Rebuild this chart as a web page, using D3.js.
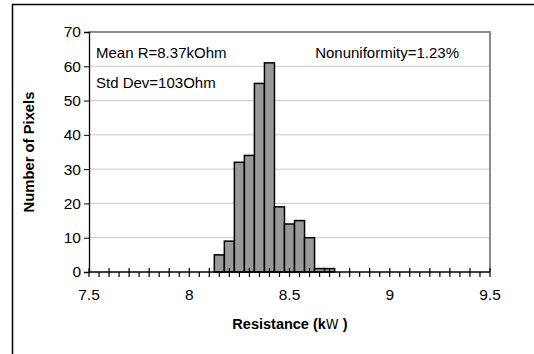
<!DOCTYPE html>
<html>
<head>
<meta charset="utf-8">
<script src="https://cdn.jsdelivr.net/npm/d3@7"></script>
<style>
  body { margin: 0; background: #fff; }
  text { font-family: "Liberation Sans", Arial, sans-serif; fill: #000; }
</style>
</head>
<body>
<script>
// histogram bins (centre, kOhm) and pixel counts
const binCenters = [8.15, 8.2, 8.25, 8.3, 8.35, 8.4, 8.45, 8.5, 8.55, 8.6, 8.65, 8.7];
const counts = [5, 9, 32, 34, 55, 61, 19, 14, 15, 10, 1, 1];
const binWidth = 0.05;
const xTicks = [7.5, 8, 8.5, 9, 9.5];
const yTicks = [0, 10, 20, 30, 40, 50, 60, 70];
const notes = ['Mean R=8.37kOhm', 'Std Dev=103Ohm', 'Nonuniformity=1.23%'];

const W = 534, H = 354;
const margin = { top: 32, right: 44, bottom: 82, left: 89 };
const width = W - margin.left - margin.right;
const height = H - margin.top - margin.bottom;

const svg = d3.select('body').append('svg')
  .attr('width', W)
  .attr('height', H);

// outer frame (only top and left edges show in the picture)
svg.append('path')
  .attr('d', `M12.5,${H} V4.5 H${W}`)
  .attr('fill', 'none')
  .attr('stroke', '#000')
  .attr('stroke-width', 1.5);

const g = svg.append('g')
  .attr('transform', `translate(${margin.left},${margin.top})`);

const x = d3.scaleLinear().domain([7.5, 9.5]).range([0, width]);
const y = d3.scaleLinear().domain([0, 70]).range([height, 0]);

// gridlines
g.append('g')
  .selectAll('line')
  .data(yTicks.filter(d => d > 0 && d < 70))
  .join('line')
  .attr('x1', 0).attr('x2', width)
  .attr('y1', d => y(d)).attr('y2', d => y(d))
  .attr('stroke', '#c8c8c8')
  .attr('stroke-width', 1);

// plot border top + right
g.append('path')
  .attr('d', `M0,0 H${width} V${height}`)
  .attr('fill', 'none')
  .attr('stroke', '#8c8c8c')
  .attr('stroke-width', 2);

// bars
g.selectAll('rect.bar')
  .data(binCenters.map((c, i) => ({ c, n: counts[i] })))
  .join('rect')
  .attr('class', 'bar')
  .attr('x', d => x(d.c - binWidth / 2))
  .attr('width', d => x(d.c + binWidth / 2) - x(d.c - binWidth / 2))
  .attr('y', d => y(d.n))
  .attr('height', d => y(0) - y(d.n))
  .attr('fill', '#999999')
  .attr('stroke', '#000')
  .attr('stroke-width', 1.5);

// y axis
const yAxis = g.append('g')
  .call(d3.axisLeft(y).tickValues(yTicks).tickSize(5).tickPadding(3).tickFormat(d3.format('d')));
yAxis.select('.domain').attr('stroke-width', 1.3);
yAxis.selectAll('text').attr('font-size', 15.5).attr('font-family', '"Liberation Sans", Arial, sans-serif');

// x axis: labels every 0.5, minor ticks every 0.05, cross ticks every 0.1
const xa = g.append('g').attr('transform', `translate(0,${height})`);
xa.append('line')
  .attr('x1', 0).attr('x2', width)
  .attr('stroke', '#000').attr('stroke-width', 1.3);
const allTicks = d3.range(0, 41).map(i => 7.5 + i * 0.05);
xa.selectAll('line.tk')
  .data(allTicks)
  .join('line')
  .attr('class', 'tk')
  .attr('x1', d => x(d)).attr('x2', d => x(d))
  .attr('y1', (d, i) => i % 2 === 0 ? -4 : 0)
  .attr('y2', 5)
  .attr('stroke', '#000')
  .attr('stroke-width', 1.2);
xa.selectAll('text')
  .data(xTicks)
  .join('text')
  .attr('x', d => x(d))
  .attr('y', 28)
  .attr('text-anchor', 'middle')
  .attr('font-size', 15.5)
  .text(d => d);

// axis titles
const xt = svg.append('text')
  .attr('x', 290)
  .attr('y', 329)
  .attr('text-anchor', 'middle')
  .attr('font-size', 14.5)
  .attr('font-weight', 'bold');
xt.append('tspan').text('Resistance (k');
xt.append('tspan').attr('font-family', '"Liberation Sans Narrow", "DejaVu Sans Condensed", sans-serif').attr('font-weight', 'normal').text('W');
xt.append('tspan').text(' )');

svg.append('text')
  .attr('transform', `translate(34,${margin.top + height / 2}) rotate(-90)`)
  .attr('text-anchor', 'middle')
  .attr('font-size', 14.8)
  .attr('font-weight', 'bold')
  .text('Number of Pixels');

// annotations
g.append('text').attr('x', 7).attr('y', 26).attr('font-size', 15).text(notes[0]);
g.append('text').attr('x', 7).attr('y', 56).attr('font-size', 15).text(notes[1]);
g.append('text').attr('x', 370).attr('y', 26).attr('text-anchor', 'end').attr('font-size', 15).text(notes[2]);
</script>
</body>
</html>
